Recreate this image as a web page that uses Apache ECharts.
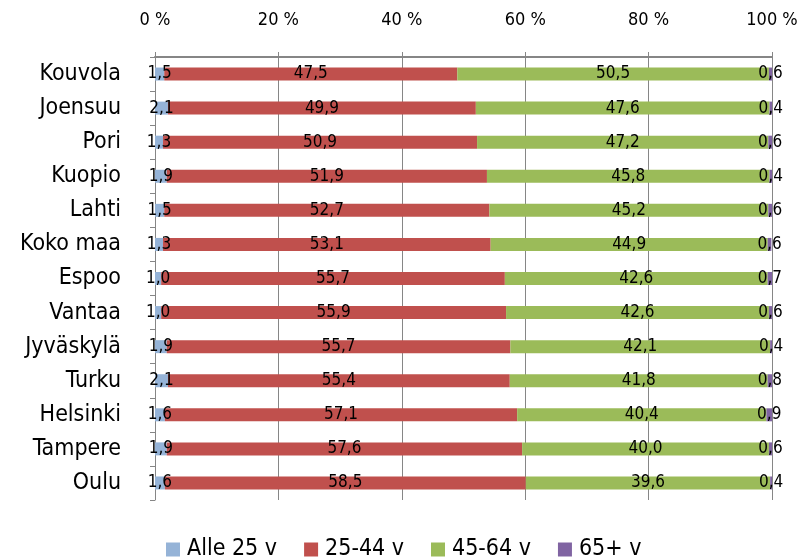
<!DOCTYPE html>
<html>
<head>
<meta charset="utf-8">
<script src="https://cdn.jsdelivr.net/npm/echarts@6/dist/echarts.min.js"></script>
<style>body{margin:0;background:#fff}</style>
</head>
<body>
<div id="main" style="width:806px;height:560px;"></div>
<script type="text/javascript">
var cities = ['Kouvola', 'Joensuu', 'Pori', 'Kuopio', 'Lahti', 'Koko maa', 'Espoo', 'Vantaa', 'Jyväskylä', 'Turku', 'Helsinki', 'Tampere', 'Oulu'];
var alle25 = [1.5, 2.1, 1.3, 1.9, 1.5, 1.3, 1.0, 1.0, 1.9, 2.1, 1.6, 1.9, 1.6];
var v25_44 = [47.5, 49.9, 50.9, 51.9, 52.7, 53.1, 55.7, 55.9, 55.7, 55.4, 57.1, 57.6, 58.5];
var v45_64 = [50.5, 47.6, 47.2, 45.8, 45.2, 44.9, 42.6, 42.6, 42.1, 41.8, 40.4, 40.0, 39.6];
var v65 = [0.6, 0.4, 0.6, 0.4, 0.6, 0.6, 0.7, 0.6, 0.4, 0.8, 0.9, 0.6, 0.4];
var seriesNames = ['Alle 25 v', '25-44 v', '45-64 v', '65+ v'];
var colors = ['#95B3D7', '#C0504D', '#9BBB59', '#8064A2'];
var xTicks = [0, 20, 40, 60, 80, 100];

var font = "'Liberation Sans Narrow', 'DejaVu Sans Condensed', sans-serif";

function mk(name, data, color) {
    return {
        name: name,
        type: 'bar',
        stack: 'all',
        barWidth: 13,
        data: data,
        itemStyle: { color: color },
        label: {
            show: true,
            position: 'inside',
            color: '#000',
            fontSize: 17,
            fontFamily: font,
            formatter: function (p) { return p.value.toFixed(1).replace('.', ','); }
        }
    };
}

var chart = echarts.init(document.getElementById('main'));
chart.setOption({
    animation: false,
    textStyle: { fontFamily: font },
    color: colors,
    grid: { left: 155, right: 34, top: 57, bottom: 60, containLabel: false },
    legend: {
        top: 533,
        left: 161,
        itemWidth: 14,
        itemHeight: 14,
        itemGap: 27,
        icon: 'rect',
        textStyle: { fontSize: 23, color: '#000', fontFamily: font, padding: [0, 0, 0, 2] },
        data: seriesNames
    },
    xAxis: {
        type: 'value',
        position: 'top',
        min: 0,
        max: 100,
        interval: 20,
        axisLine: { show: true, lineStyle: { color: '#868686', width: 2 } },
        axisTick: { show: true, length: 5, lineStyle: { color: '#868686' } },
        axisLabel: {
            margin: 28,
            fontSize: 18,
            color: '#000',
            fontFamily: font,
            formatter: function (v) { return xTicks.indexOf(v) >= 0 ? v + ' %' : ''; }
        },
        splitLine: { show: true, lineStyle: { color: '#868686', width: 1 } }
    },
    yAxis: {
        type: 'category',
        inverse: true,
        data: cities,
        axisLine: { show: true, lineStyle: { color: '#868686', width: 1 } },
        axisTick: { show: true, length: 5, lineStyle: { color: '#868686' } },
        axisLabel: { fontSize: 23, color: '#000', margin: 34, fontFamily: font }
    },
    series: [
        mk(seriesNames[0], alle25, colors[0]),
        mk(seriesNames[1], v25_44, colors[1]),
        mk(seriesNames[2], v45_64, colors[2]),
        mk(seriesNames[3], v65, colors[3])
    ]
});
</script>
</body>
</html>
